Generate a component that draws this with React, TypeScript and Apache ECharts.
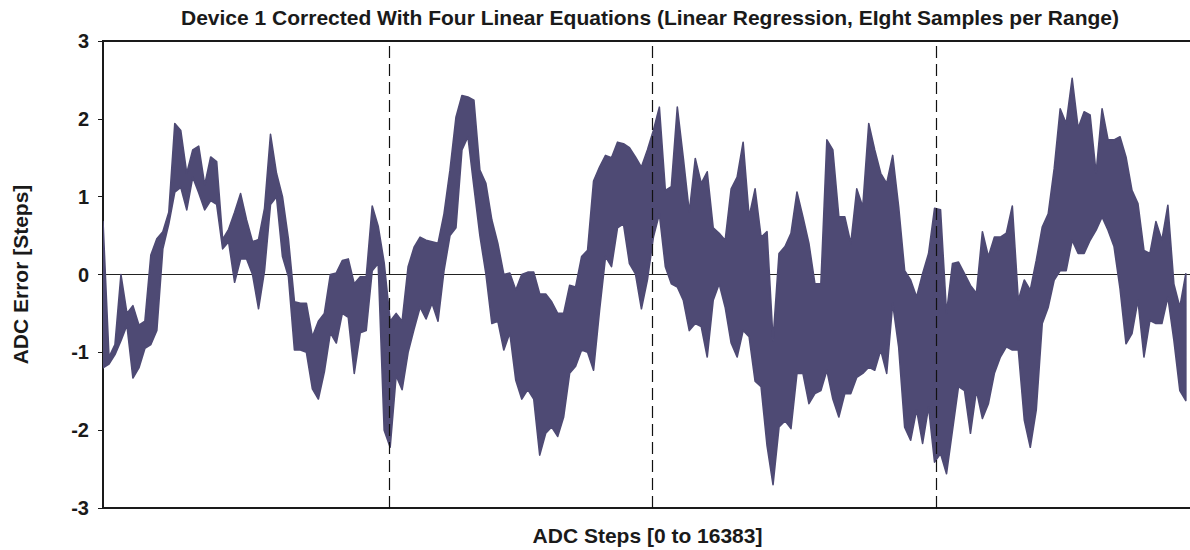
import React, { useEffect, useRef } from "react";
import * as echarts from "echarts";

// Error envelope, one column every SAMPLE_SPACING ADC steps
const errHigh = [
  0.68, -1.06, -0.9, 0.0, -0.5, -0.4, -0.65, -0.6, 0.25, 0.46, 0.55, 0.8, 1.94, 1.85, 1.3, 1.6,
  1.65, 1.15, 1.51, 1.45, 0.45, 0.58, 0.8, 1.04, 0.7, 0.42, 0.45, 0.85, 1.8, 1.3, 1.0, 0.45, -0.35,
  -0.37, -0.37, -0.8, -0.6, -0.5, 0.0, 0.02, 0.18, 0.2, -0.12, -0.03, -0.03, 0.88, 0.62, 0.15, -0.6,
  -0.5, -0.6, 0.1, 0.35, 0.48, 0.44, 0.42, 0.4, 0.78, 1.34, 2.02, 2.3, 2.28, 2.24, 1.34, 1.17,
  0.7, 0.4, 0.0, 0.02, -0.2, 0.0, 0.03, 0.03, -0.25, -0.25, -0.35, -0.5, -0.5, -0.14, -0.16, 0.23, 0.31,
  1.2, 1.38, 1.53, 1.5, 1.7, 1.68, 1.63, 1.51, 1.38, 1.6, 1.85, 2.15, 1.08, 1.13, 2.15, 1.5,
  0.8, 1.49, 1.17, 1.32, 0.6, 0.53, 0.44, 1.1, 1.25, 1.7, 0.74, 1.1, 0.48, 0.55, -0.85, 0.27,
  0.36, 0.53, 1.06, 0.74, 0.4, -0.12, -0.12, 1.73, 1.6, 0.74, 0.74, 0.4, 1.1, 0.87, 1.94, 1.6, 1.3,
  1.17, 1.53, 0.87, 0.05, -0.07, -0.29, 0.01, 0.27, 0.85, 0.83, -0.5, 0.14, 0.16, 0.01, -0.14, -0.24,
  0.55, 0.23, 0.48, 0.48, 0.53, 0.88, -0.33, -0.07, -0.2, 0.18, 0.61, 0.78, 1.36, 2.13, 1.94, 2.52,
  1.88, 2.09, 2.05, 1.3, 2.13, 1.73, 1.73, 1.77, 1.51, 1.08, 0.91, 0.31, 0.27, 0.68, 0.44, 0.89, -0.12, -0.42, 0.01,
];

const errLow = [
  -1.2, -1.15, -1.03, -0.85, -0.65, -1.33, -1.2, -0.95, -0.9, -0.72, 0.33, 0.65, 1.06, 1.12, 0.83, 1.25,
  1.05, 0.83, 0.95, 0.9, 0.33, 0.42, -0.1, 0.2, 0.2, 0.0, -0.44, 0.05, 0.9, 1.0, 0.23, -0.03, -0.97,
  -0.97, -1.0, -1.47, -1.6, -1.25, -0.75, -0.88, -0.5, -0.55, -1.27, -0.75, -0.72, 0.05, 0.14, -2.0, -2.22,
  -1.3, -1.48, -1.0, -0.7, -0.42, -0.57, -0.37, -0.6, 0.05, 0.5, 0.6, 1.6, 1.77, 1.13, 0.5, 0.01,
  -0.63, -0.6, -0.97, -0.75, -1.36, -1.6, -1.48, -1.6, -2.32, -2.04, -1.96, -2.08, -1.83, -1.27, -1.18, -0.97, -1.0,
  -1.23, -0.46, 0.23, 0.1, 0.6, 0.65, 0.14, 0.01, -0.44, -0.07, 0.48, 0.78, 0.1, -0.12, -0.16, -0.33,
  -0.72, -0.63, -0.67, -1.06, -0.33, -0.12, -0.42, -0.88, -1.06, -0.72, -0.8, -1.37, -1.44, -2.2, -2.7, -1.96,
  -1.88, -1.98, -1.27, -1.27, -1.66, -1.53, -1.49, -1.23, -1.6, -1.83, -1.53, -1.53, -1.32, -1.27, -1.19, -1.23, -0.97,
  -1.27, -0.37, -0.93, -1.96, -2.13, -1.74, -2.17, -1.7, -2.41, -2.3, -2.56, -2.0, -1.44, -1.49, -2.04, -1.49,
  -1.85, -1.66, -1.27, -1.06, -0.93, -0.97, -0.97, -1.87, -2.22, -1.74, -0.63, -0.42, -0.07, 0.05, 0.05, 0.44,
  0.27, 0.27, 0.44, 0.57, 0.74, 0.57, 0.36, -0.18, -0.89, -0.76, -0.33, -1.06, -0.59, -0.63, -0.63, -0.29, -0.84, -1.49, -1.62,
];

const SAMPLE_SPACING = 90; // ADC steps between envelope columns
const ADC_MAX = 16383;
const rangeBoundaries = [4310, 8260, 12540];
const Y_MIN = -3;
const Y_MAX = 3;
const Y_STEP = 1;

const TITLE =
  "Device 1 Corrected With Four Linear Equations (Linear Regression, EIght Samples per Range)";
const X_NAME = "ADC Steps [0 to 16383]";
const Y_NAME = "ADC Error [Steps]";

const FONT = "'Liberation Sans', Arial, Helvetica, sans-serif";
const TRACE = "#4e4a74";
const INK = "#1a1a1a";

export default function App() {
  const ref = useRef<HTMLDivElement>(null);

  useEffect(() => {
    document.body.style.margin = "0";
    if (!ref.current) return;
    const chart = echarts.init(ref.current, undefined, { renderer: "svg" });

    const bandData = errHigh.map((h, i) => [i * SAMPLE_SPACING, h, errLow[i]]);

    chart.setOption({
      animation: false,
      backgroundColor: "#ffffff",
      title: {
        text: TITLE,
        left: 645,
        top: 2,
        textAlign: "center",
        textStyle: { fontFamily: FONT, fontWeight: "bold", fontSize: 21, color: INK },
      },
      grid: {
        left: 103,
        right: -2,
        top: 41,
        bottom: 42,
        outerBoundsMode: "none",
        containLabel: false,
        show: true,
        borderColor: INK,
        borderWidth: 2,
        backgroundColor: "#ffffff",
      },
      xAxis: {
        type: "value",
        min: 0,
        max: ADC_MAX,
        axisLine: { show: false },
        axisTick: { show: false },
        axisLabel: { show: false },
        splitLine: { show: false },
        name: X_NAME,
        nameLocation: "middle",
        nameGap: 17,
        nameTextStyle: { fontFamily: FONT, fontWeight: "bold", fontSize: 21, color: INK },
      },
      yAxis: {
        type: "value",
        min: Y_MIN,
        max: Y_MAX,
        interval: Y_STEP,
        axisLine: { show: true, lineStyle: { color: INK, width: 2 } },
        axisTick: { show: true, inside: false, length: 5, lineStyle: { color: INK, width: 1 } },
        axisLabel: {
          fontFamily: FONT,
          fontWeight: "bold",
          fontSize: 20,
          color: INK,
          margin: 14,
        },
        splitLine: { show: false },
        name: Y_NAME,
        nameLocation: "middle",
        nameGap: 72,
        nameRotate: 90,
        nameTextStyle: { fontFamily: FONT, fontWeight: "bold", fontSize: 21, color: INK },
      },
      series: [
        {
          name: "zero",
          type: "line",
          data: [],
          z: 1,
          markLine: {
            silent: true,
            symbol: ["none", "none"],
            label: { show: false },
            z: 1,
            data: [{ yAxis: 0, lineStyle: { type: "solid", color: "#222222", width: 1 } }],
          },
        },
        {
          name: "ADC error",
          type: "custom",
          data: bandData,
          encode: { x: 0, y: [1, 2] },
          clip: true,
          z: 3,
          renderItem: (params: any, api: any) => {
            if (params.dataIndex !== 0) return null;
            const top: number[][] = [];
            const bottom: number[][] = [];
            for (let i = 0; i < bandData.length; i++) {
              const [x, h, l] = bandData[i];
              top.push(api.coord([x, h]));
              bottom.push(api.coord([x, l]));
            }
            const pts = top.concat(bottom.reverse());
            return {
              type: "polygon",
              shape: { points: pts },
              style: {
                fill: TRACE,
                stroke: TRACE,
                lineWidth: 1.6,
                lineJoin: "round",
              },
            };
          },
          markLine: {
            silent: true,
            symbol: ["none", "none"],
            label: { show: false },
            z: 6,
            data: rangeBoundaries.map((b) => ({
              xAxis: b,
              lineStyle: { type: [12, 6], color: "#111111", width: 1.2 },
            })),
          },
        },
      ],
    });

    return () => chart.dispose();
  }, []);

  return <div ref={ref} style={{ width: 1190, height: 550 }} />;
}
